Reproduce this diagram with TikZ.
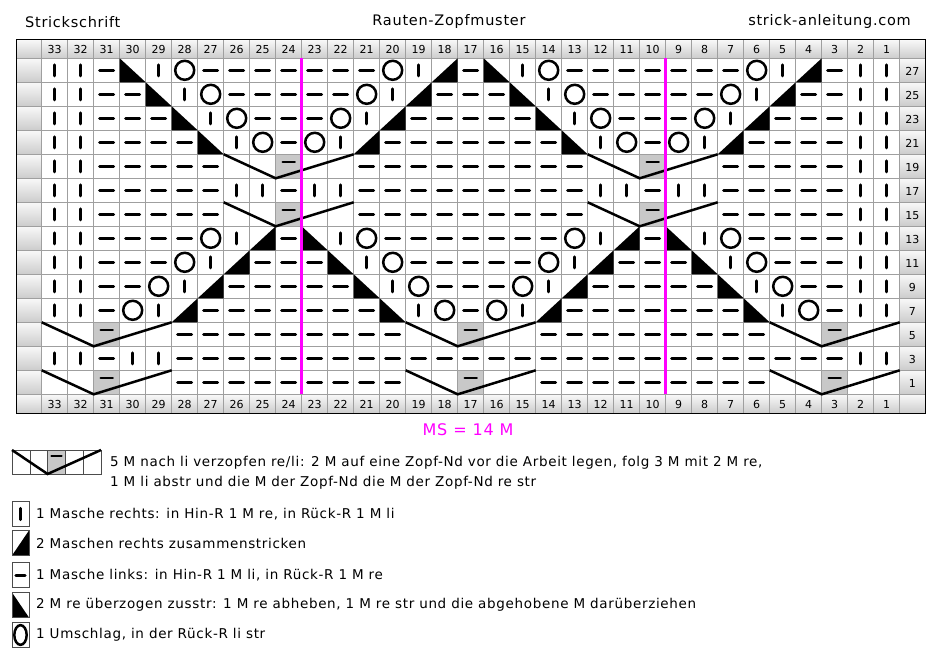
\documentclass[tikz,border=0pt]{standalone}
\usepackage{fontspec}
\setmainfont{DejaVu Sans}
\newfontfamily\weitfont[LetterSpace=5]{DejaVu Sans}
\definecolor{magentaline}{RGB}{255,0,255}
\definecolor{zopfgray}{RGB}{200,200,200}
% one chart row: #1 row index from the top, #2 the 33 stitches from col 33 to col 1
\newcommand{\chartrow}[2]{\foreach \s [count=\i] in {#2}{\pic at ({41.7+(\i-0.5)*26},{58.3+(#1+0.5)*24}) {st\s};}}
% cable over five stitches: #1 row index, #2 index of its first column
\newcommand{\zopffill}[2]{\fill[zopfgray] ({41.7+(#2+1)*26},{58.3+#1*24}) rectangle ++(26,24);}
\newcommand{\zopfline}[2]{%
\draw[stitch,line width=2.5pt] ({41.7+(#2+1.5)*26-6},{58.3+#1*24+7.5}) -- ++(12,0);
\draw[zopf] ({41.7+(#2-1)*26},{58.3+#1*24}) -- ({41.7+(#2+1)*26},{58.3+(#1+1)*24}) -- ({41.7+(#2+4)*26},{58.3+#1*24});}

\begin{document}
\begin{tikzpicture}[x=1pt,y=-1pt]
\tikzstyle{stitch}=[line width=3pt,line cap=round]
\tikzstyle{zopf}=[line width=2.5pt]
\tikzstyle{gridline}=[gray!75,line width=.8pt]
\tikzstyle{head}=[top color=gray!5,bottom color=gray!40]
\tikzstyle{num}=[font=\fontsize{11}{13}\selectfont,inner sep=0pt]
\tikzstyle{legtext}=[anchor=west,font=\weitfont\fontsize{13.5}{16}\selectfont,inner sep=0pt]
\tikzstyle{titeltext}=[font=\weitfont\fontsize{14.5}{17}\selectfont,inner sep=0pt]
\tikzset{stk/.pic={\draw[stitch] (0,-5.5) -- (0,5.5);},
 stp/.pic={\draw[stitch] (-7,0) -- (7,0);},
 sto/.pic={\draw[line width=2.5pt] (0,0) circle (9.5pt);},
 sta/.pic={\fill (-13,-12) -- (-13,12) -- (13,12) -- cycle;},
 stb/.pic={\fill (-13,12) -- (13,12) -- (13,-12) -- cycle;},
 ste/.pic={}}
\useasboundingbox (0,0) rectangle (934,655);

% titles
\node[titeltext,anchor=west] (titel) at (25,22) {Strickschrift};
\node[titeltext] (muster) at (449,22) {Rauten-Zopfmuster};
\node[titeltext,anchor=east] (seite) at (911,22) {strick-anleitung.com};

% header cells
\shade[head] (16,39.7) rectangle (925,58.3);
\shade[head] (16,394.3) rectangle (925,413.3);
\foreach \j in {0,...,13} {
 \shade[head] (16,{58.3+\j*24}) rectangle (41.7,{58.3+(\j+1)*24});
 \shade[head] (899.7,{58.3+\j*24}) rectangle (925,{58.3+(\j+1)*24});
 \pgfmathtruncatemacro{\rnr}{27-2*\j}
 \node[num] (reihe\rnr) at (912.3,{58.3+(\j+0.5)*24+1}) {\rnr};
}
\foreach \i in {1,...,33} {
 \pgfmathtruncatemacro{\cnr}{34-\i}
 \node[num] (oben\cnr) at ({41.7+(\i-0.5)*26},49.5) {\cnr};
 \node[num] (unten\cnr) at ({41.7+(\i-0.5)*26},404.3) {\cnr};
}

% gray cable cells
\foreach \j/\c in {4/8,4/22,6/8,6/22,11/1,11/15,11/29,13/1,13/15,13/29} {\zopffill{\j}{\c}}

% grid
\foreach \k in {0,...,34} \draw[gridline] ({41.7+\k*26},39.7) -- ({41.7+\k*26},413.3);
\foreach \j in {0,...,14} \draw[gridline] (16,{58.3+\j*24}) -- (925,{58.3+\j*24});
\draw[gridline] (16,39.7) -- (16,413.3);
\draw[line width=1pt] (16,39.7) rectangle (925,413.3);

% stitches
\chartrow{0}{k,k,p,a,k,o,p,p,p,p,p,p,p,o,k,b,p,a,k,o,p,p,p,p,p,p,p,o,k,b,p,k,k}
\chartrow{1}{k,k,p,p,a,k,o,p,p,p,p,p,o,k,b,p,p,p,a,k,o,p,p,p,p,p,o,k,b,p,p,k,k}
\chartrow{2}{k,k,p,p,p,a,k,o,p,p,p,o,k,b,p,p,p,p,p,a,k,o,p,p,p,o,k,b,p,p,p,k,k}
\chartrow{3}{k,k,p,p,p,p,a,k,o,p,o,k,b,p,p,p,p,p,p,p,a,k,o,p,o,k,b,p,p,p,p,k,k}
\chartrow{4}{k,k,p,p,p,p,p,e,e,e,e,e,p,p,p,p,p,p,p,p,p,e,e,e,e,e,p,p,p,p,p,k,k}
\chartrow{5}{k,k,p,p,p,p,p,k,k,p,k,k,p,p,p,p,p,p,p,p,p,k,k,p,k,k,p,p,p,p,p,k,k}
\chartrow{6}{k,k,p,p,p,p,p,e,e,e,e,e,p,p,p,p,p,p,p,p,p,e,e,e,e,e,p,p,p,p,p,k,k}
\chartrow{7}{k,k,p,p,p,p,o,k,b,p,a,k,o,p,p,p,p,p,p,p,o,k,b,p,a,k,o,p,p,p,p,k,k}
\chartrow{8}{k,k,p,p,p,o,k,b,p,p,p,a,k,o,p,p,p,p,p,o,k,b,p,p,p,a,k,o,p,p,p,k,k}
\chartrow{9}{k,k,p,p,o,k,b,p,p,p,p,p,a,k,o,p,p,p,o,k,b,p,p,p,p,p,a,k,o,p,p,k,k}
\chartrow{10}{k,k,p,o,k,b,p,p,p,p,p,p,p,a,k,o,p,o,k,b,p,p,p,p,p,p,p,a,k,o,p,k,k}
\chartrow{11}{e,e,e,e,e,p,p,p,p,p,p,p,p,p,e,e,e,e,e,p,p,p,p,p,p,p,p,p,e,e,e,e,e}
\chartrow{12}{k,k,p,k,k,p,p,p,p,p,p,p,p,p,p,p,p,p,p,p,p,p,p,p,p,p,p,p,p,p,p,k,k}
\chartrow{13}{e,e,e,e,e,p,p,p,p,p,p,p,p,p,e,e,e,e,e,p,p,p,p,p,p,p,p,p,e,e,e,e,e}

% cables
\foreach \j/\c in {4/8,4/22,6/8,6/22,11/1,11/15,11/29,13/1,13/15,13/29} {\zopfline{\j}{\c}}

% pattern repeat
\draw[magentaline,line width=3pt] (301.7,58.3) -- (301.7,394.3);
\draw[magentaline,line width=3pt] (665.7,58.3) -- (665.7,394.3);
\node[magentaline,font=\weitfont\fontsize{16}{18}\selectfont] (rapport) at (468,430) {MS = 14 M};

% legend: cable
\fill[zopfgray] (47.6,450) rectangle (65.4,474);
\foreach \k in {0,...,5} \draw[black!70,line width=.6pt] ({12+\k*17.8},450) -- ({12+\k*17.8},474);
\draw[black!70,line width=.6pt] (12,450) rectangle (101,474);
\draw[stitch,line width=2.5pt] (51.5,456) -- (61.5,456);
\draw[zopf] (12,450) -- (47.6,474) -- (101,450);
\node[legtext] (legzopfa) at (110,463) {5 M nach li verzopfen re/li: 2 M auf eine Zopf-Nd vor die Arbeit legen, folg 3 M mit 2 M re,};
\node[legtext] (legzopfb) at (110,483) {1 M li abstr und die M der Zopf-Nd die M der Zopf-Nd re str};

% legend: single stitches
\foreach \y/\t/\txt in {514/k/1 Masche rechts: in Hin-R 1 M re{,} in Rück-R 1 M li,
 543/b/2 Maschen rechts zusammenstricken,
 575/p/1 Masche links: in Hin-R 1 M li{,} in Rück-R 1 M re,
 605/a/2 M re überzogen zusstr: 1 M re abheben{,} 1 M re str und die abgehobene M darüberziehen,
 635/o/1 Umschlag{,} in der Rück-R li str} {
 \pic[xscale=.65,yscale=1.04] at (20.5,\y) {st\t};
 \draw[black!70,line width=.6pt] (12,\y-12.5) rectangle (29,\y+12.5);
 \node[legtext] (leg\t) at (36,\y) {\txt};
}
\end{tikzpicture}
\end{document}
